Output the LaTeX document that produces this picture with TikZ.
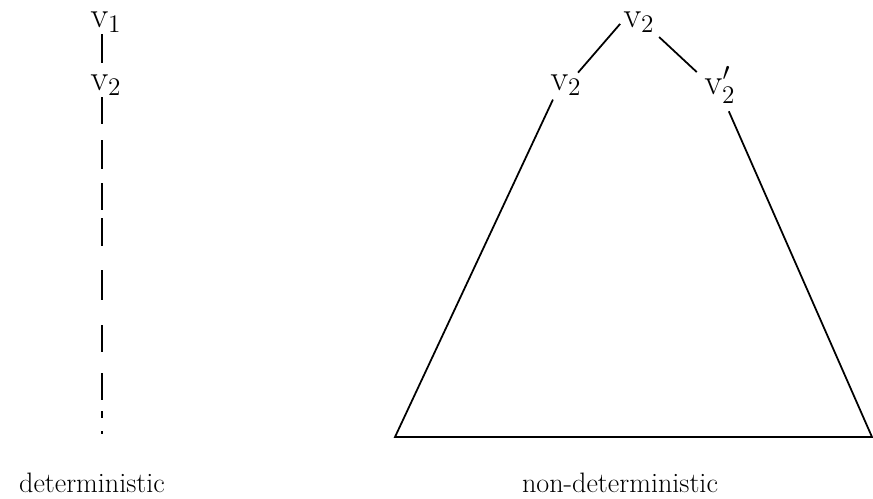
\documentclass[tikz,border=0pt]{standalone}
\begin{document}
\begin{tikzpicture}[x=0.02cm, y=-0.02cm, line width=1pt,
	every node/.style={inner sep=1pt, font=\fontsize{16}{19}\selectfont},
	vlabel/.style={inner sep=0.5pt, font=\fontsize{20}{24}\selectfont}]
	\useasboundingbox (0,0) rectangle (873,499);
	% deterministic
	\node[vlabel] (a1) at (106,22) {$\mathrm{v}_1$};
	\node[vlabel] (a2) at (106,85) {$\mathrm{v}_2$};
	\coordinate (aend) at (102,434);
	\draw[shorten >=2mm] (a1.south -| aend) -- (a2.north -| aend);
	\draw[dash pattern=on 5.4mm off 3.2mm on 5.8mm off 2.8mm on 5.4mm off 1.6mm on 5.6mm off 4.8mm on 6mm off 5mm on 5.4mm off 4.2mm on 5.4mm off 2.2mm on 1.4mm off 2.6mm on 0.6mm off 5mm]
		(a2.south -| aend) -- (aend);
	% non-deterministic
	\node[vlabel] (r) at (639,22) {$\mathrm{v}_2$};
	\node[vlabel] (l) at (566,85) {$\mathrm{v}_2$};
	\node[vlabel] (rr) at (720,85) {$\mathrm{v}'_2$};
	\coordinate (bl) at (395,437);
	\coordinate (br) at (872,437);
	\draw[shorten <=0.5mm] (r.west) -- ([xshift=2.4mm]l.north);
	\draw[shorten <=0.8mm] (r.south east) -- ([xshift=-1.2mm, yshift=-1.4mm]rr.north west);
	\draw[shorten <=0.5mm, shorten >=1.4mm] ([xshift=-2.4mm]l.south) -- (bl) -- (br) -- ([xshift=1.2mm]rr.south);
	\node (det) at (92,483) {deterministic};
	\node (nondet) at (620,483) {non-deterministic};
\end{tikzpicture}
\end{document}
